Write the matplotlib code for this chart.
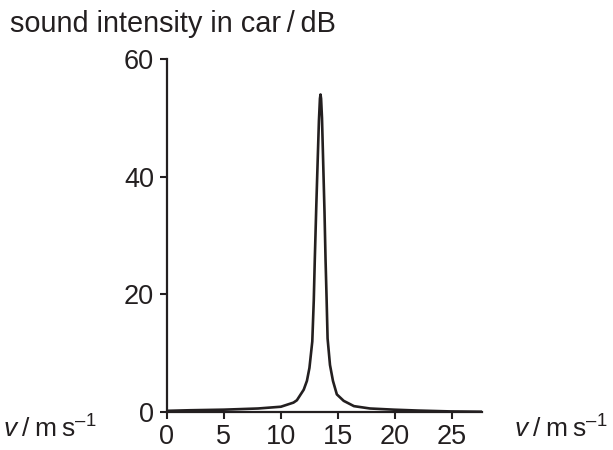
import matplotlib
matplotlib.use('Agg')
from matplotlib import pyplot as plt

plt.rcParams['font.family'] = ['Liberation Sans', 'DejaVu Sans']
plt.rcParams['mathtext.fontset'] = 'custom'
plt.rcParams['mathtext.rm'] = 'Liberation Sans'
plt.rcParams['mathtext.it'] = 'Liberation Sans:italic'

# speed of the car / m s^-1 and sound intensity / dB
speed = [0.0, 2.0, 5.0, 8.0, 10.0, 11.1, 11.4, 12.0, 12.28, 12.5, 12.75,
         12.88, 12.97, 13.1, 13.21, 13.33, 13.42, 13.47, 13.52, 13.6,
         13.71, 13.82, 13.91, 14.0, 14.09, 14.3, 14.56, 14.9, 15.5, 16.4,
         17.8, 19.9, 22.0, 24.9, 27.6]
intensity = [0.2, 0.3, 0.4, 0.6, 0.9, 1.6, 2.0, 3.8, 5.3, 7.5, 12.0,
             19.0, 26.0, 35.0, 42.0, 49.5, 53.3, 54.0, 53.3, 50.0,
             42.0, 34.0, 26.0, 19.5, 12.5, 8.0, 5.3, 3.0, 1.9, 1.0,
             0.6, 0.4, 0.25, 0.1, 0.05]

x_ticks = [0, 5, 10, 15, 20, 25]
y_ticks = [0, 20, 40, 60]

fig = plt.figure(figsize=(6.13, 4.5), dpi=100)
ax = fig.add_axes([0.272, 0.0844, 0.514, 0.784])
ax.plot(speed, intensity, color='#231f20', lw=1.9, solid_joinstyle='round')

ax.set_xlim(0, 27.6)
ax.set_ylim(0, 60)
ax.set_xticks(x_ticks)
ax.set_yticks(y_ticks)
for side in ('top', 'right'):
    ax.spines[side].set_visible(False)
for side in ('left', 'bottom'):
    ax.spines[side].set_linewidth(1.6)
    ax.spines[side].set_color('#231f20')
ax.tick_params(axis='both', direction='out', length=5, width=1.5,
               color='#231f20', labelsize=19.5, labelcolor='#231f20')
ax.tick_params(axis='x', pad=3.5)
ax.tick_params(axis='y', pad=4)

fig.text(0.016, 0.93, 'sound intensity in car\u2009/\u2009dB', fontsize=20.8,
         color='#231f20', ha='left', va='baseline')
unit = '$v$\u2009/\u2009m\u2009s$^{\u2013 1}$'
fig.text(0.005, 0.027, unit, fontsize=19, color='#231f20',
         ha='left', va='baseline')
fig.text(0.838, 0.027, unit, fontsize=19, color='#231f20',
         ha='left', va='baseline')

fig.savefig('out.png', dpi=100)
